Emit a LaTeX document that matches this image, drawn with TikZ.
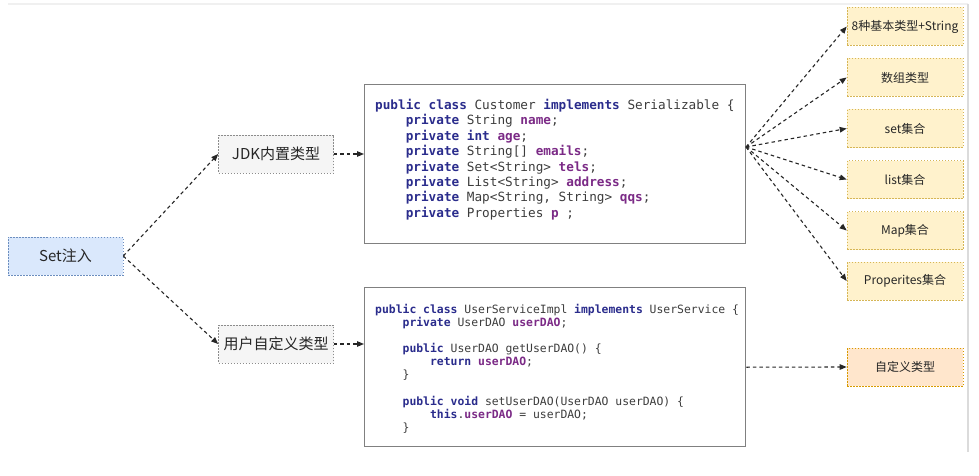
\documentclass[tikz,border=0pt]{standalone}
\usepackage{fontspec}
\setmainfont{Noto Sans CJK SC}
\newfontfamily\codefont{DejaVu Sans Mono}
\usetikzlibrary{arrows.meta}

\definecolor{kwblue}{HTML}{2A2C8C}
\definecolor{fldpurple}{HTML}{7B2A86}
\definecolor{codegray}{HTML}{3C3C3C}
\definecolor{bluefill}{HTML}{DAE8FC}
\definecolor{blueline}{HTML}{6C8EBF}
\definecolor{yellowfill}{HTML}{FFF2CC}
\definecolor{yellowline}{HTML}{D6B656}
\definecolor{orangefill}{HTML}{FFE6CC}
\definecolor{orangeline}{HTML}{D79B00}

\newcommand{\kwd}[1]{\textcolor{kwblue}{\textbf{#1}}}
\newcommand{\fld}[1]{\textcolor{fldpurple}{\textbf{#1}}}
\newcommand{\ind}{\hphantom{0000}}

\begin{document}
\begin{tikzpicture}[
    x=1pt, y=-1pt,
    box/.style={draw, dash pattern=on 1.5pt off 1.5pt, line width=0.6pt,
        minimum width=115, minimum height=38, inner sep=0, text=black!85},
    start/.style={box, fill=bluefill, draw=blueline, font=\fontsize{15}{18}\selectfont},
    kind/.style={box, fill=black!4, draw=black!45, font=\fontsize{15}{18}\selectfont},
    target/.style={box, fill=yellowfill, draw=yellowline, minimum width=116, font=\fontsize{12}{14}\selectfont},
    own/.style={box, fill=orangefill, draw=orangeline, minimum width=116, font=\fontsize{12}{14}\selectfont},
    codebox/.style={draw=black!50, line width=1.4pt, minimum width=381, anchor=north west},
    codetext/.style={anchor=north west, inner sep=0, align=left, text=codegray},
    link/.style={dash pattern=on 3.5pt off 3pt, line width=1.1pt, black!85,
        -{Triangle[length=7pt, width=5.5pt]}}
]
\useasboundingbox (0,0) rectangle (979,476);

% screenshot edges
\draw[black!6, line width=1.5pt] (8,4) -- (968,4);
\draw[black!14, line width=2pt] (968,4) -- (968,452);

% left side
\node[start] (set) at (65.5,256) {Set注入};
\node[kind] (jdk) at (276,154) {JDK内置类型};
\node[kind] (user) at (276,344) {用户自定义类型};

% code boxes
\node[codebox, minimum height=159] (customer) at (364,84) {};
\node[codetext, font=\fontsize{12.7}{15.4}\codefont\frenchspacing] (customercode) at (375,99) {%
\kwd{public} \kwd{class} Customer \kwd{implements} Serializable \{\\
\ind\kwd{private} String \fld{name};\\
\ind\kwd{private} \kwd{int} \fld{age};\\
\ind\kwd{private} String[] \fld{emails};\\
\ind\kwd{private} Set<String> \fld{tels};\\
\ind\kwd{private} List<String> \fld{address};\\
\ind\kwd{private} Map<String, String> \fld{qqs};\\
\ind\kwd{private} Properties \fld{p} ;};

\node[codebox, minimum height=159] (service) at (364,287) {};
\node[codetext, font=\fontsize{11.4}{13.1}\codefont\frenchspacing] (servicecode) at (375,304) {%
\kwd{public} \kwd{class} UserServiceImpl \kwd{implements} UserService \{\\
\ind\kwd{private} UserDAO \fld{userDAO};\\
\mbox{}\\
\ind\kwd{public} UserDAO getUserDAO() \{\\
\ind\ind\kwd{return} \fld{userDAO};\\
\ind\}\\
\mbox{}\\
\ind\kwd{public} \kwd{void} setUserDAO(UserDAO userDAO) \{\\
\ind\ind\kwd{this}.\fld{userDAO} = userDAO;\\
\ind\}};

% right side
\node[target] (basic) at (905,26.5) {8种基本类型+String};
\node[target] (array) at (905,77.5) {数组类型};
\node[target] (setc) at (905,128.5) {set集合};
\node[target] (listc) at (905,179.5) {list集合};
\node[target] (mapc) at (905,230.5) {Map集合};
\node[target] (props) at (905,281) {Properites集合};
\node[own] (custom) at (905,367) {自定义类型};

\coordinate (fan) at (746,147);

\draw[link] (set.east) -- (jdk.west);
\draw[link] (set.east) -- (user.west);
\draw[link] (jdk.east) -- (jdk.east -| customer.west);
\draw[link] (user.east) -- (user.east -| service.west);
\foreach \t in {basic, array, setc, listc, mapc, props}
    \draw[link] (fan) -- (\t.west);
\draw[link] (service.east) -- (custom.west);

\end{tikzpicture}
\end{document}
